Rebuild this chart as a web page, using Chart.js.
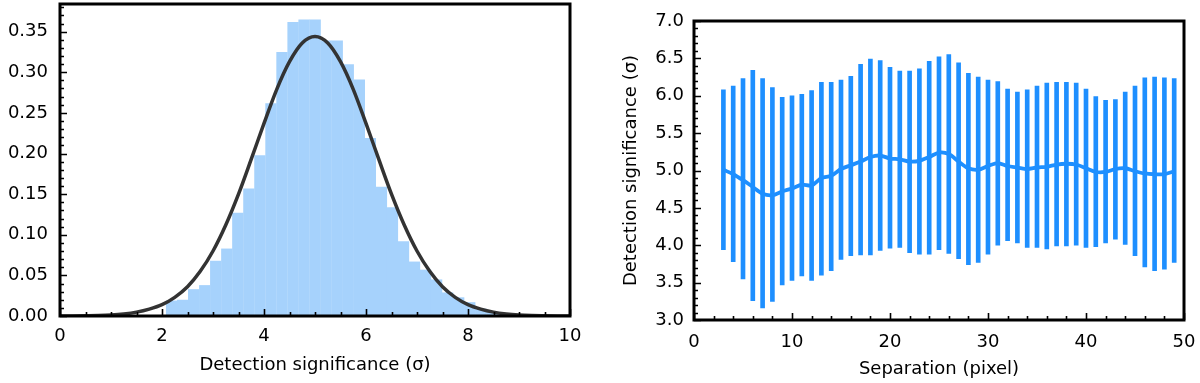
<!DOCTYPE html>
<html>
<head>
<meta charset="utf-8">
<script src="https://cdn.jsdelivr.net/npm/chart.js@4.4.1/dist/chart.umd.min.js"></script>
<style>
  body { margin: 0; background: #fff; }
  #wrap { position: relative; width: 1200px; height: 383px; }
  canvas { position: absolute; top: 0; }
  #histo { left: 0; }
  #sep { left: 600px; }
</style>
</head>
<body>
<div id="wrap">
  <canvas id="histo" width="600" height="383"></canvas>
  <canvas id="sep" width="600" height="383"></canvas>
</div>
<script>
// left panel: histogram of detection significance + fitted curve
const binCenters = [2.188, 2.405, 2.621, 2.838, 3.054, 3.271, 3.487, 3.704, 3.920, 4.137,
  4.353, 4.570, 4.786, 5.003, 5.219, 5.436, 5.652, 5.869, 6.085, 6.302,
  6.518, 6.735, 6.951, 7.168, 7.384, 7.601, 7.817, 8.034, 8.250, 8.467, 8.683, 8.900];
const binHeights = [0.019, 0.020, 0.033, 0.038, 0.068, 0.083, 0.127, 0.157, 0.198, 0.262,
  0.325, 0.362, 0.365, 0.365, 0.339, 0.339, 0.310, 0.291, 0.219, 0.159,
  0.134, 0.092, 0.067, 0.057, 0.045, 0.029, 0.023, 0.017, 0.009, 0.005, 0.003, 0.001];

const fitX = [0, 0.25, 0.5, 0.75, 1, 1.25, 1.5, 1.75, 2, 2.25, 2.5, 2.75, 3, 3.25, 3.5, 3.75,
  4, 4.25, 4.5, 4.75, 5, 5.25, 5.5, 5.75, 6, 6.25, 6.5, 6.75, 7, 7.25, 7.5, 7.75,
  8, 8.25, 8.5, 8.75, 9, 9.25, 9.5, 9.75, 10];
const fitY = [0, 0.0001, 0.0003, 0.0006, 0.0013, 0.0026, 0.0048, 0.0085, 0.014, 0.023, 0.036, 0.055,
  0.080, 0.112, 0.150, 0.193, 0.237, 0.279, 0.313, 0.336, 0.344, 0.336, 0.313, 0.279,
  0.237, 0.193, 0.150, 0.112, 0.080, 0.055, 0.036, 0.023, 0.014, 0.0085, 0.0048, 0.0026,
  0.0013, 0.0006, 0.0003, 0.0001, 0];

// right panel: significance vs separation
const separation = [3, 4, 5, 6, 7, 8, 9, 10, 11, 12, 13, 14, 15, 16, 17, 18, 19, 20, 21, 22, 23, 24,
  25, 26, 27, 28, 29, 30, 31, 32, 33, 34, 35, 36, 37, 38, 39, 40, 41, 42, 43, 44, 45, 46, 47, 48, 49];
const sigMean = [5.01, 4.95, 4.87, 4.78, 4.69, 4.67, 4.72, 4.76, 4.81, 4.80, 4.90, 4.93, 5.02, 5.07,
  5.12, 5.18, 5.20, 5.16, 5.15, 5.12, 5.13, 5.18, 5.24, 5.22, 5.12, 5.03, 5.01, 5.06, 5.10, 5.06, 5.04,
  5.02, 5.04, 5.05, 5.08, 5.09, 5.08, 5.03, 4.98, 4.98, 5.02, 5.03, 4.99, 4.96, 4.95, 4.95, 4.99];
const sigHigh = [6.08, 6.13, 6.23, 6.34, 6.23, 6.11, 5.98, 6.00, 6.02, 6.07, 6.18, 6.18, 6.21, 6.26,
  6.42, 6.49, 6.47, 6.38, 6.33, 6.33, 6.36, 6.46, 6.52, 6.55, 6.44, 6.30, 6.25, 6.21, 6.19, 6.09, 6.05,
  6.08, 6.13, 6.17, 6.18, 6.18, 6.17, 6.09, 5.99, 5.94, 5.95, 6.05, 6.13, 6.24, 6.25, 6.24, 6.23];
const sigLow = [3.94, 3.78, 3.55, 3.26, 3.16, 3.25, 3.47, 3.53, 3.59, 3.53, 3.60, 3.66, 3.81, 3.86,
  3.87, 3.87, 3.93, 3.96, 3.97, 3.90, 3.88, 3.88, 3.94, 3.89, 3.82, 3.74, 3.77, 3.88, 4.00, 4.06, 4.03,
  3.97, 3.97, 3.95, 3.99, 3.99, 4.00, 3.97, 3.98, 4.03, 4.08, 4.01, 3.86, 3.71, 3.66, 3.68, 3.77];

Chart.defaults.color = '#000';
Chart.defaults.font.family = "'DejaVu Sans', sans-serif";
Chart.defaults.font.size = 18;

// black box around the plot + inward ticks on left and bottom
const frameTicks = {
  id: 'frameTicks',
  afterDraw(chart, args, o) {
    const {ctx, chartArea: a, scales} = chart;
    ctx.save();
    ctx.strokeStyle = '#000';
    ctx.lineWidth = 1.6;
    ctx.beginPath();
    const nx = Math.round((scales.x.max - scales.x.min) / o.xMinor);
    for (let i = 0; i <= nx; i++) {
      const v = scales.x.min + i * o.xMinor;
      const len = (i % o.xEvery === 0) ? 7 : 4;
      const p = Math.round(scales.x.getPixelForValue(v)) + 0.5;
      ctx.moveTo(p, a.bottom);
      ctx.lineTo(p, a.bottom - len);
    }
    const ny = Math.floor((scales.y.max - scales.y.min) / o.yMinor + 1e-6);
    for (let i = 0; i <= ny; i++) {
      const v = scales.y.min + i * o.yMinor;
      const len = (i % o.yEvery === 0) ? 7 : 4;
      const p = Math.round(scales.y.getPixelForValue(v)) + 0.5;
      ctx.moveTo(a.left, p);
      ctx.lineTo(a.left + len, p);
    }
    ctx.stroke();
    ctx.lineWidth = 3;
    ctx.strokeRect(a.left, a.top, a.right - a.left, a.bottom - a.top);
    ctx.restore();
  }
};

// fixed axis boxes so the plot areas land where the reference has them
function fixX(h) {
  return s => { s.height = h; s.paddingLeft = 0; s.paddingRight = 0; };
}
function fixY(w) {
  return s => { s.width = w; s.paddingTop = 0; s.paddingBottom = 0; };
}

new Chart(document.getElementById('histo'), {
  data: {
    datasets: [{
      type: 'line',
      data: fitX.map((x, i) => ({x: x, y: fitY[i]})),
      borderColor: '#333333',
      borderWidth: 3.5,
      pointRadius: 0,
      cubicInterpolationMode: 'monotone',
      order: 0
    }, {
      type: 'bar',
      data: binCenters.map((x, i) => ({x: x, y: binHeights[i]})),
      backgroundColor: '#a6d2fc',
      borderWidth: 0,
      barPercentage: 1.03,
      categoryPercentage: 1,
      order: 1
    }]
  },
  options: {
    responsive: false,
    animation: false,
    devicePixelRatio: 1,
    layout: { padding: { top: 4, right: 30, left: 0, bottom: 0 } },
    plugins: {
      legend: { display: false },
      tooltip: { enabled: false },
      frameTicks: { xMinor: 0.5, xEvery: 4, yMinor: 0.01, yEvery: 5 }
    },
    scales: {
      x: {
        type: 'linear', min: 0, max: 10, offset: false,
        grid: { display: false, drawTicks: false, offset: false },
        border: { display: false },
        ticks: { stepSize: 2, padding: 10, maxRotation: 0 },
        title: { display: true, text: 'Detection significance (σ)', padding: { bottom: 7 } },
        afterFit: fixX(67)
      },
      y: {
        min: 0, max: 0.384,
        grid: { display: false, drawTicks: false },
        border: { display: false },
        ticks: { stepSize: 0.05, includeBounds: false, padding: 12,
          callback: v => v.toFixed(2) },
        afterFit: fixY(60)
      }
    }
  },
  plugins: [frameTicks]
});

new Chart(document.getElementById('sep'), {
  data: {
    datasets: [{
      type: 'line',
      data: separation.map((x, i) => ({x: x, y: sigMean[i]})),
      borderColor: '#1e8fff',
      borderWidth: 3.8,
      pointRadius: 0,
      tension: 0.3,
      order: 0
    }, {
      type: 'bar',
      data: separation.map((x, i) => ({x: x, y: [sigLow[i], sigHigh[i]]})),
      backgroundColor: '#1e8fff',
      borderWidth: 0,
      barThickness: 4,
      grouped: false,
      order: 1
    }]
  },
  options: {
    responsive: false,
    animation: false,
    devicePixelRatio: 1,
    layout: { padding: { top: 21, right: 16, left: 0, bottom: 0 } },
    plugins: {
      legend: { display: false },
      tooltip: { enabled: false },
      frameTicks: { xMinor: 2, xEvery: 5, yMinor: 0.1, yEvery: 5 }
    },
    scales: {
      x: {
        type: 'linear', min: 0, max: 50, offset: false,
        grid: { display: false, drawTicks: false, offset: false },
        border: { display: false },
        ticks: { stepSize: 10, padding: 12, maxRotation: 0 },
        title: { display: true, text: 'Separation (pixel)', padding: { bottom: 3 } },
        afterFit: fixX(63)
      },
      y: {
        min: 3, max: 7,
        grid: { display: false, drawTicks: false },
        border: { display: false },
        ticks: { stepSize: 0.5, padding: 10, callback: v => v.toFixed(1) },
        title: { display: true, text: 'Detection significance (σ)', padding: { top: 21 } },
        afterFit: fixY(94)
      }
    }
  },
  plugins: [frameTicks]
});
</script>
</body>
</html>
